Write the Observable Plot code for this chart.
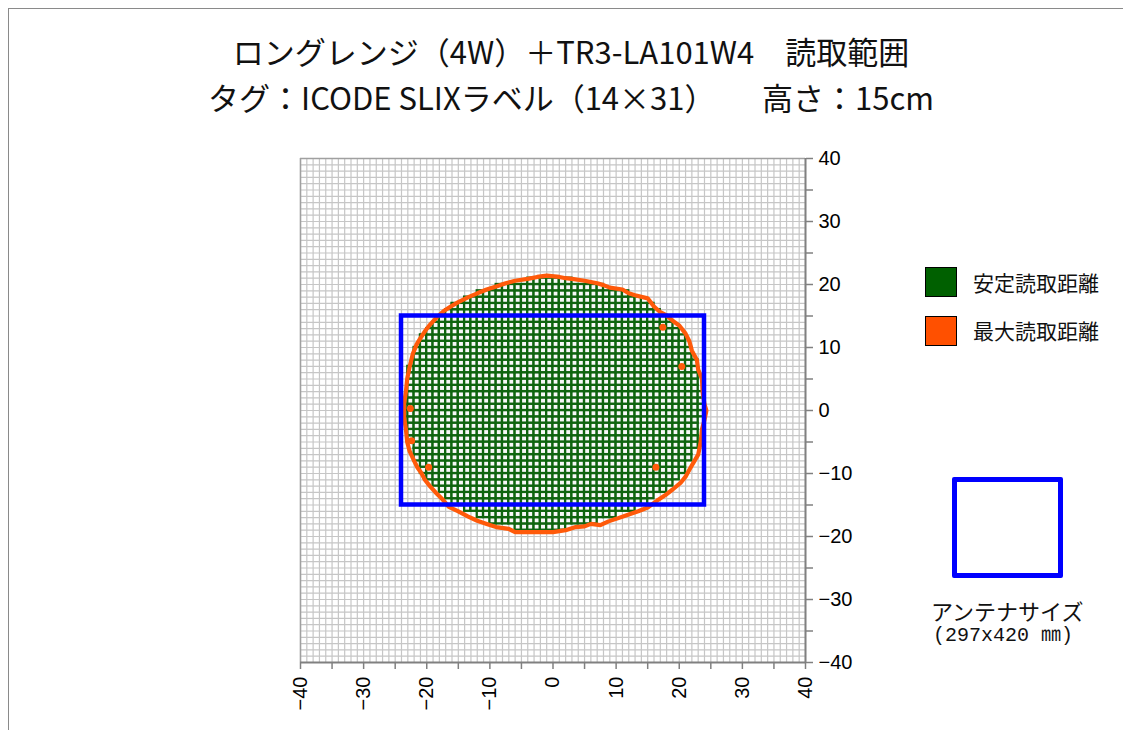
<!DOCTYPE html>
<html><head><meta charset="utf-8">
<script src="https://cdn.jsdelivr.net/npm/d3@7"></script>
<script src="https://cdn.jsdelivr.net/npm/@observablehq/plot@0.6"></script>
<style>
html,body{margin:0;padding:0;background:#fff;}
body{width:1123px;height:730px;overflow:hidden;position:relative;font-family:"Noto Sans CJK JP","Noto Sans",sans-serif;color:#111;}
#frame{position:absolute;left:8px;top:8px;width:1300px;height:900px;border-left:1.5px solid #8a8a8a;border-top:1.5px solid #8a8a8a;}
#chart{position:absolute;left:0;top:0;}
.title{position:absolute;left:0;width:1142px;text-align:center;font-size:31px;line-height:1;white-space:pre;}
.sw{position:absolute;width:30px;height:28px;border:1.5px solid #000;}
.lt{position:absolute;font-size:21px;line-height:1;white-space:pre;}
#ant{position:absolute;left:952px;top:477px;width:101px;height:91px;border:5px solid #0000ff;border-radius:2px;}
</style></head>
<body>
<div id="frame"></div>
<div id="chart"></div>
<div class="title" style="top:35px">ロングレンジ（4W）＋TR3-LA101W4　読取範囲</div>
<div class="title" style="top:81px">タグ：ICODE SLIXラベル（14×31）　　高さ：15cm</div>
<div class="sw" style="left:925px;top:267px;background:#006000"></div>
<div class="lt" style="left:973px;top:272px">安定読取距離</div>
<div class="sw" style="left:925px;top:316px;background:#ff5000"></div>
<div class="lt" style="left:973px;top:320px">最大読取距離</div>
<div id="ant"></div>
<div class="lt" style="left:931px;top:599px;font-size:22px">アンテナサイズ</div>
<div class="lt" style="left:933px;top:626px;font-size:20px;font-family:'Liberation Mono','Noto Sans CJK JP',monospace">(297x420 ㎜)</div>
<script>
// Axis ticks
const axisTicks = d3.range(-40, 41, 5);
const gridLines = d3.range(-40, 41, 1);

// Stable read area (green): per row (bottom edge y), left and right edges in cm
const rowY       = [-19,-18,-17,-16,-15,-14,-13,-12,-11,-10,-9,-8,-7,-6,-5,-4,-3,-2,-1,0,1,2,3,4,5,6,7,8,9,10,11,12,13,14,15,16,17,18,19,20];
const greenLeft  = [ -6,-10,-12,-14,-16,-17,-18,-19,-20,-21,-21,-22,-22,-22,-23,-23,-23,-23,-23,-23,-23,-23,-23,-23,-23,-23,-22,-22,-22,-21,-21,-20,-19,-18,-17,-16,-14,-12,-9,-4];
const greenRight = [  2,  7, 10, 13, 15, 16, 18, 19, 20, 21, 21, 22, 22, 23, 23, 23, 23, 23, 24, 24, 24, 24, 23, 23, 23, 23, 23, 22, 22, 21, 21, 20, 19, 18, 17, 16, 14, 12, 8, 3];

// Max read area (orange) outline, clockwise
const maxX = [-1,1,2,3,5,7,8,9,11,12,13,15,16,17,18,19,20,21,21.6,22,22.8,23,23.6,23.7,24,24.3,24,23.6,23.4,23,22.3,21.6,21,20.2,19,17.7,16.5,15,13.5,12,10,8.8,7.5,6,5,3.6,2,0,-3,-6,-7,-9,-10.5,-12,-13.5,-15,-16.5,-17.6,-18.6,-19.5,-20.3,-20.8,-21.5,-22,-22.7,-23.1,-23.3,-23.6,-23.6,-23.3,-23.1,-22.7,-22.2,-21.6,-21,-20.2,-19.5,-18.4,-17.3,-16.2,-15,-13.4,-12,-10.5,-9,-7.5,-6,-4,-2.5];
const maxY = [21.4,21.2,21,20.9,20.6,20.2,19.9,19.5,19.2,18.6,18.3,17.8,16.5,15.6,15.1,14.2,13.5,12.2,11,9.5,8,6.5,5,3,1,0,-1.5,-3,-5,-7,-8.2,-9.4,-10.5,-11.5,-12.5,-13.5,-14.3,-15.4,-16,-16.5,-17.2,-17.6,-18.2,-18,-18.4,-18.5,-19,-19.3,-19.3,-19.3,-18.8,-18.5,-18,-17.5,-16.8,-16,-15.3,-14,-13,-12,-11,-10,-9,-8,-6.5,-5,-3,-1,1,3,5,7,9,10.5,11.5,12.7,13.6,14.8,15.8,16.5,17.2,18,18.6,19.2,19.7,20.2,20.6,20.9,21.2];

// Isolated max-read points inside the area
const spotX = [17.4, 20.4, 16.3, -19.7, -22.6, -22.4];
const spotY = [13.2, 7.0, -9.0, -9.0, 0.3, -4.8];

// Antenna outline (cm)
const antennaX = [-24, 24];
const antennaY = [-15, 15];

const cells = [];
rowY.forEach((y, i) => { for (let x = greenLeft[i]; x < greenRight[i]; x++) cells.push({x, y}); });
const maxPts = maxX.map((x, i) => ({x, y: maxY[i]}));
const spots = spotX.map((x, i) => ({x, y: spotY[i]}));
const antenna = [{x1: antennaX[0], x2: antennaX[1], y1: antennaY[0], y2: antennaY[1]}];

const fmt = d3.format("d");
const chart = Plot.plot({
  width: 1123, height: 730,
  marginLeft: 300, marginRight: 318, marginTop: 158, marginBottom: 68,
  style: {fontFamily: "'Liberation Sans', Arial, sans-serif", color: "#000", background: "transparent"},
  x: {domain: [-40, 40]},
  y: {domain: [-40, 40]},
  marks: [
    Plot.gridX(gridLines, {stroke: "#c6c6c6", strokeOpacity: 1, strokeWidth: 1.2}),
    Plot.gridY(gridLines, {stroke: "#c6c6c6", strokeOpacity: 1, strokeWidth: 1.2}),
    Plot.ruleX([-40], {stroke: "#a0a0a0", strokeWidth: 1.5}),
    Plot.ruleY([40], {stroke: "#a0a0a0", strokeWidth: 1.5}),
    Plot.rect(cells, {x1: d => d.x, x2: d => d.x + 1, y1: d => d.y, y2: d => d.y + 1, fill: "#f8f8f8", stroke: "#0f640f", strokeWidth: 2.3}),
    Plot.line(maxPts, {x: "x", y: "y", curve: "linear-closed", stroke: "#ff5a0a", strokeWidth: 4.2, strokeLinejoin: "miter"}),
    Plot.dot(spots, {x: "x", y: "y", r: 3.5, fill: "#ff5a0a"}),
    Plot.rect(antenna, {x1: "x1", x2: "x2", y1: "y1", y2: "y2", fill: "none", stroke: "#0000ff", strokeWidth: 4.5}),
    Plot.ruleY([-40], {stroke: "#808080", strokeWidth: 2}),
    Plot.ruleX([40], {stroke: "#808080", strokeWidth: 2}),
    Plot.axisX(axisTicks, {anchor: "bottom", tickFormat: d => d % 10 === 0 ? fmt(d) : "", tickRotate: -90, fontSize: 20, tickSize: 7, tickPadding: 7, stroke: "#808080", strokeWidth: 1.5}),
    Plot.axisY(axisTicks, {anchor: "right", tickFormat: d => d % 10 === 0 ? fmt(d) : "", fontSize: 20, tickSize: 7, tickPadding: 6, stroke: "#808080", strokeWidth: 1.5})
  ]
});
document.getElementById("chart").append(chart);
</script>
</body></html>
